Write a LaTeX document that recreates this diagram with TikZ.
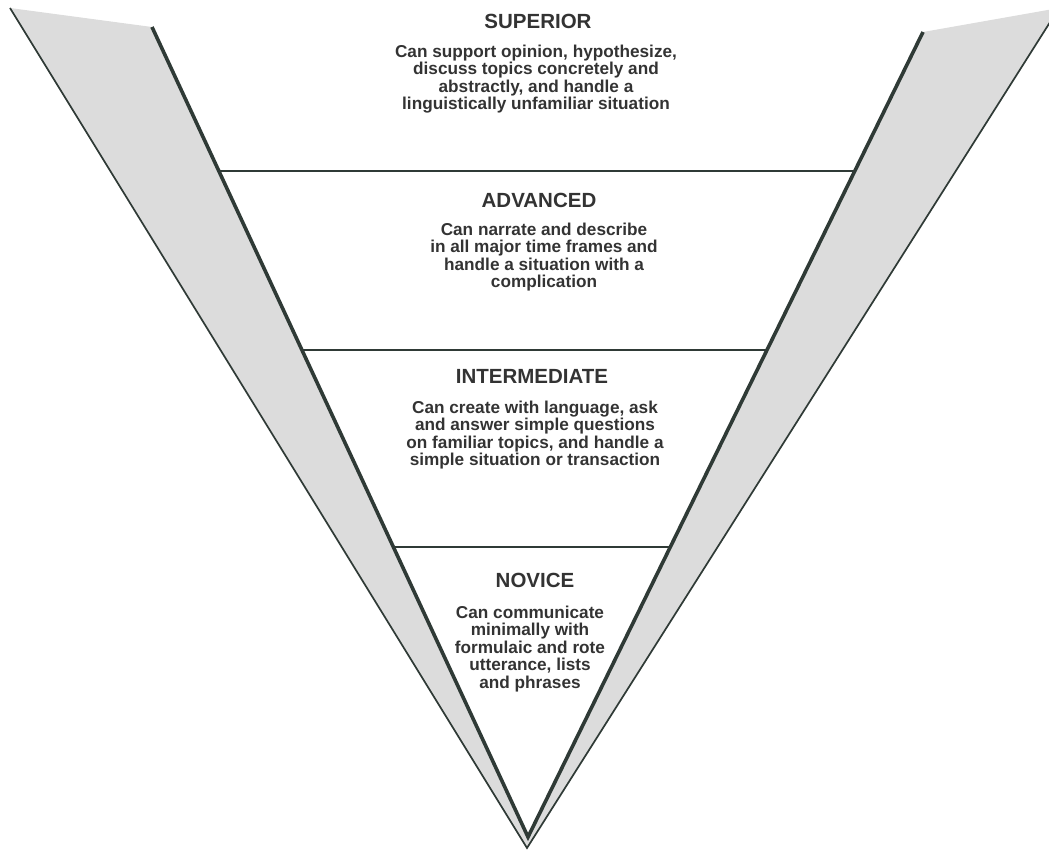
\documentclass[tikz,border=0pt]{standalone}
\usepackage{fontspec}
\setmainfont{Liberation Sans}
\definecolor{ink}{HTML}{2F3A36}
\definecolor{txt}{HTML}{333333}
\definecolor{bandgray}{HTML}{DCDCDC}
\tikzset{
  outerline/.style={draw=ink, line width=1.7pt},
  innerline/.style={draw=ink, line width=3.6pt},
  levelline/.style={draw=ink, line width=1.9pt},
  leveltitle/.style={font=\fontsize{20.5}{24}\selectfont\bfseries, text=txt, anchor=base, inner sep=0pt},
  levelbody/.style={font=\fontsize{17.2}{17.5}\selectfont\bfseries, text=txt, align=center, anchor=north, inner sep=0pt}
}
\begin{document}
\begin{tikzpicture}[x=1pt,y=-1pt]
\useasboundingbox (0,0) rectangle (1049,851);
\coordinate (OL) at (10,8);
\coordinate (IL) at (152,27);
\coordinate (IR) at (923,32);
\coordinate (OR) at (1059,8);
\coordinate (IA) at (528,837);
\coordinate (OA) at (527,848);
\begin{scope}
  \clip (0,0) rectangle (1049,851);
  \fill[fill=bandgray] (OL) -- (IL) -- (IA) -- (IR) -- (OR) -- (OA) -- cycle;
  \draw[outerline] (OL) -- (OA) -- (OR);
\end{scope}
\draw[innerline] (IL) -- (IA) -- (IR);
% level separators
\coordinate (L1) at (intersection of IL--IA and 0,171--1,171);
\coordinate (R1) at (intersection of IR--IA and 0,171--1,171);
\coordinate (L2) at (intersection of IL--IA and 0,350--1,350);
\coordinate (R2) at (intersection of IR--IA and 0,350--1,350);
\coordinate (L3) at (intersection of IL--IA and 0,547--1,547);
\coordinate (R3) at (intersection of IR--IA and 0,547--1,547);
\draw[levelline] (L1) -- (R1);
\draw[levelline] (L2) -- (R2);
\draw[levelline] (L3) -- (R3);
% texts
\node[leveltitle] (t1) at (538,29) {SUPERIOR};
\node[levelbody] (b1) at (536,44.5) {Can support opinion, hypothesize,\\discuss topics concretely and\\abstractly, and handle a\\linguistically unfamiliar situation};
\node[leveltitle] (t2) at (539,207) {ADVANCED};
\node[levelbody] (b2) at (544,222.5) {Can narrate and describe\\in all major time frames and\\handle a situation with a\\complication};
\node[leveltitle] (t3) at (532,383) {INTERMEDIATE};
\node[levelbody] (b3) at (535,400.5) {Can create with language, ask\\and answer simple questions\\on familiar topics, and handle a\\simple situation or transaction};
\node[leveltitle] (t4) at (535,587) {NOVICE};
\node[levelbody] (b4) at (530,605.5) {Can communicate\\minimally with\\formulaic and rote\\utterance, lists\\and phrases};
\end{tikzpicture}
\end{document}
